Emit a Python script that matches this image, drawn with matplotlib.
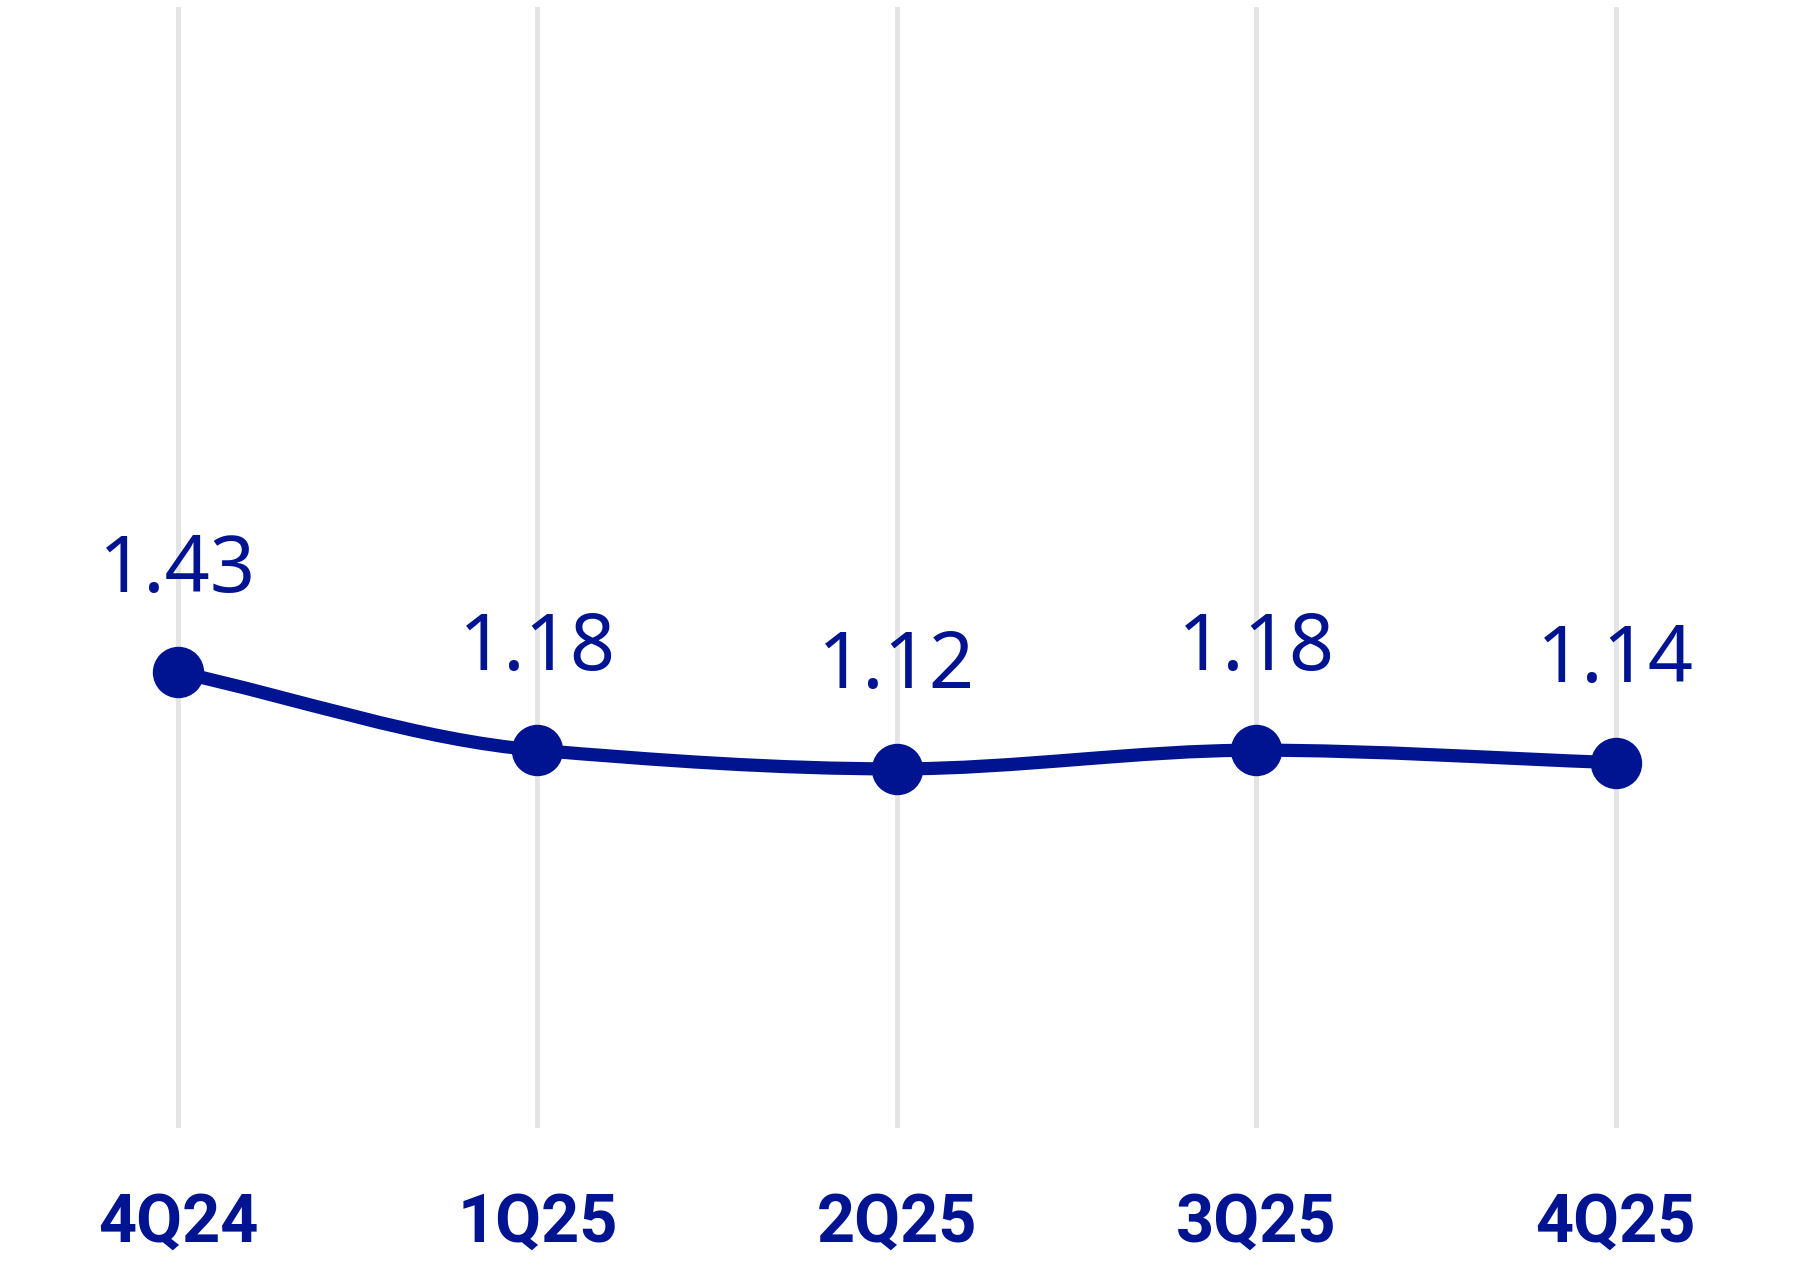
import numpy as np
import matplotlib
matplotlib.use("Agg")
import matplotlib.pyplot as plt
from matplotlib.path import Path
from matplotlib.patches import PathPatch

# chart data
quarters = ["4Q24", "1Q25", "2Q25", "3Q25", "4Q25"]
values = [1.43, 1.18, 1.12, 1.18, 1.14]

BLUE = "#001491"
GRID = "#e4e4e4"

plt.rcParams['font.family'] = ['Noto Sans', 'DejaVu Sans']

fig = plt.figure(figsize=(18, 12.66), dpi=100)
ax = fig.add_axes([0, 1 - 1128 / 1266, 1, (1128 - 7) / 1266])

x = np.arange(len(quarters), dtype=float)
y = np.array(values)

# smooth line through the points (monotone cubic tangents, drawn as bezier path)
d = np.diff(y) / np.diff(x)
m = np.zeros_like(y)
m[0], m[-1] = d[0], d[-1]
for i in range(1, len(y) - 1):
    if d[i - 1] * d[i] > 0:
        m[i] = 2 / (1 / d[i - 1] + 1 / d[i])
verts = [(x[0], y[0])]
codes = [Path.MOVETO]
for i in range(len(x) - 1):
    h = x[i + 1] - x[i]
    verts += [(x[i] + h / 3, y[i] + m[i] * h / 3),
              (x[i + 1] - h / 3, y[i + 1] - m[i + 1] * h / 3),
              (x[i + 1], y[i + 1])]
    codes += [Path.CURVE4] * 3
ax.add_patch(PathPatch(Path(verts, codes), facecolor="none", edgecolor=BLUE,
                       lw=9.5, capstyle="round", zorder=3))

ax.plot(x, y, "o", color=BLUE, markersize=36, zorder=4)

for xi, v in zip(x, values):
    ax.annotate(f"{v:.2f}", (xi, v), xytext=(0, 58), textcoords="offset points",
                ha="center", va="baseline", fontsize=57, color=BLUE)

for xi in x:
    ax.axvline(xi, color=GRID, lw=3.5, zorder=1)

ax.set_xlim(-0.495, 4.512)
ax.set_ylim(-0.03, 3.56)
ax.set_yticks([])
ax.set_xticks(x)
ax.set_xticklabels(quarters, fontsize=48, fontweight="bold", color=BLUE,
                   family=['Roboto', 'DejaVu Sans'])
ax.tick_params(axis="x", length=0, pad=46)
for s in ax.spines.values():
    s.set_visible(False)

fig.savefig("out.png", dpi=100, facecolor="white")
